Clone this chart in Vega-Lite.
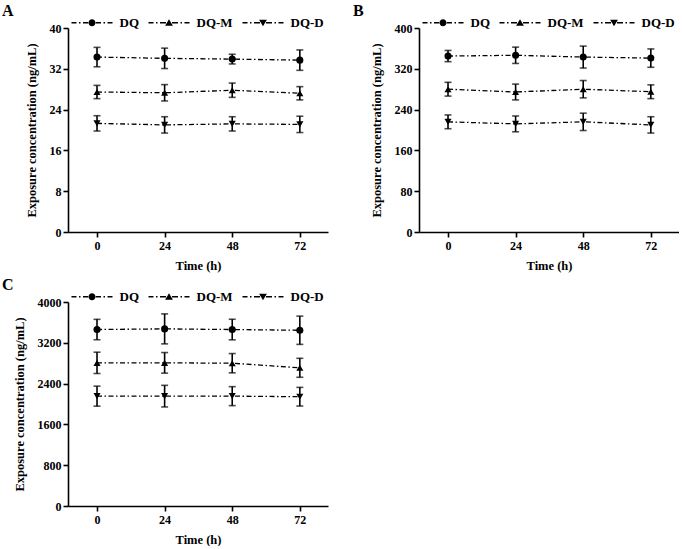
{
  "$schema": "https://vega.github.io/schema/vega-lite/v6.json",
  "padding": {"left": 2, "top": 3, "right": 0, "bottom": 0},
  "background": "white",
  "datasets": {
    "A": [
      {"series": "DQ", "time": 0, "mean": 34.3, "err": 1.9},
      {"series": "DQ", "time": 24, "mean": 34.05, "err": 2.0},
      {"series": "DQ", "time": 48, "mean": 33.9, "err": 0.95},
      {"series": "DQ", "time": 72, "mean": 33.7, "err": 2.0},
      {"series": "DQ-M", "time": 0, "mean": 27.45, "err": 1.3},
      {"series": "DQ-M", "time": 24, "mean": 27.3, "err": 1.6},
      {"series": "DQ-M", "time": 48, "mean": 27.8, "err": 1.4},
      {"series": "DQ-M", "time": 72, "mean": 27.2, "err": 1.3},
      {"series": "DQ-D", "time": 0, "mean": 21.3, "err": 1.5},
      {"series": "DQ-D", "time": 24, "mean": 21.0, "err": 1.6},
      {"series": "DQ-D", "time": 48, "mean": 21.2, "err": 1.4},
      {"series": "DQ-D", "time": 72, "mean": 21.1, "err": 1.6}
    ],
    "B": [
      {"series": "DQ", "time": 0, "mean": 345, "err": 11},
      {"series": "DQ", "time": 24, "mean": 346.5, "err": 16},
      {"series": "DQ", "time": 48, "mean": 343, "err": 21.5},
      {"series": "DQ", "time": 72, "mean": 341, "err": 18},
      {"series": "DQ-M", "time": 0, "mean": 280, "err": 13.5},
      {"series": "DQ-M", "time": 24, "mean": 274.5, "err": 15.5},
      {"series": "DQ-M", "time": 48, "mean": 280, "err": 17},
      {"series": "DQ-M", "time": 72, "mean": 275, "err": 13.5},
      {"series": "DQ-D", "time": 0, "mean": 216, "err": 13.5},
      {"series": "DQ-D", "time": 24, "mean": 212, "err": 15.5},
      {"series": "DQ-D", "time": 48, "mean": 216, "err": 17},
      {"series": "DQ-D", "time": 72, "mean": 210, "err": 16}
    ],
    "C": [
      {"series": "DQ", "time": 0, "mean": 3460, "err": 200},
      {"series": "DQ", "time": 24, "mean": 3473, "err": 294},
      {"series": "DQ", "time": 48, "mean": 3460, "err": 202},
      {"series": "DQ", "time": 72, "mean": 3446, "err": 277},
      {"series": "DQ-M", "time": 0, "mean": 2807, "err": 209},
      {"series": "DQ-M", "time": 24, "mean": 2807, "err": 202},
      {"series": "DQ-M", "time": 48, "mean": 2800, "err": 189},
      {"series": "DQ-M", "time": 72, "mean": 2710, "err": 186},
      {"series": "DQ-D", "time": 0, "mean": 2154, "err": 196},
      {"series": "DQ-D", "time": 24, "mean": 2154, "err": 212},
      {"series": "DQ-D", "time": 48, "mean": 2154, "err": 186},
      {"series": "DQ-D", "time": 72, "mean": 2143, "err": 183}
    ]
  },
  "columns": 2,
  "spacing": {"column": 25, "row": 5},
  "concat": [
    {
      "title": {"text": "A"},
      "width": 260, "height": 204,
      "data": {"name": "A"},
      "resolve": {"scale": {"shape": "independent"}, "legend": {"shape": "independent"}},
      "layer": [
        {"mark": {"type": "line", "color": "black", "strokeWidth": 1.3, "strokeDash": [5, 2.5, 1.5, 2.5]},
         "encoding": {
           "x": {"field": "time", "type": "quantitative", "title": "Time (h)", "scale": {"domain": [-10.3, 82], "nice": false, "zero": false}, "axis": {"values": [0, 24, 48, 72]}},
           "y": {"field": "mean", "type": "quantitative", "title": "Exposure concentration (ng/mL)", "scale": {"domain": [0, 40], "nice": false}, "axis": {"values": [0, 8, 16, 24, 32, 40], "format": "d"}},
           "detail": {"field": "series"}}},
        {"mark": {"type": "errorbar", "color": "black", "thickness": 1.6, "ticks": {"size": 7, "thickness": 1.6, "color": "black"}},
         "encoding": {
           "x": {"field": "time", "type": "quantitative", "title": "Time (h)"},
           "y": {"field": "mean", "type": "quantitative", "title": "Exposure concentration (ng/mL)"},
           "yError": {"field": "err"}}},
        {"mark": {"type": "point", "filled": true, "color": "black", "opacity": 1, "size": 50},
         "encoding": {
           "x": {"field": "time", "type": "quantitative", "title": "Time (h)"},
           "y": {"field": "mean", "type": "quantitative", "title": "Exposure concentration (ng/mL)"},
           "shape": {"field": "series", "type": "nominal", "legend": null,
             "scale": {"domain": ["DQ", "DQ-M", "DQ-D"], "range": ["circle", "triangle-up", "triangle-down"]}}}},
        {"mark": {"type": "point", "filled": true, "color": "black", "size": 0},
         "encoding": {
           "x": {"field": "time", "type": "quantitative", "title": "Time (h)"},
           "y": {"field": "mean", "type": "quantitative", "title": "Exposure concentration (ng/mL)"},
           "shape": {"field": "series", "type": "nominal",
             "scale": {"domain": ["DQ", "DQ-M", "DQ-D"], "range": [
               "M-20.5,-0.7H-15.5V0.7H-20.5Z M-13,-0.7H-11.5V0.7H-13Z M-9,-0.7H-3V0.7H-9Z M3,-0.7H9V0.7H3Z M11.5,-0.7H13V0.7H11.5Z M15.5,-0.7H20.5V0.7H15.5Z M-3.5,0A3.5,3.5 0 1,0 3.5,0A3.5,3.5 0 1,0 -3.5,0Z",
               "M-20.5,-0.7H-15.5V0.7H-20.5Z M-13,-0.7H-11.5V0.7H-13Z M-9,-0.7H-3V0.7H-9Z M3,-0.7H9V0.7H3Z M11.5,-0.7H13V0.7H11.5Z M15.5,-0.7H20.5V0.7H15.5Z M0,-3.6L3.9,3L-3.9,3Z",
               "M-20.5,-0.7H-15.5V0.7H-20.5Z M-13,-0.7H-11.5V0.7H-13Z M-9,-0.7H-3V0.7H-9Z M3,-0.7H9V0.7H3Z M11.5,-0.7H13V0.7H11.5Z M15.5,-0.7H20.5V0.7H15.5Z M0,3.6L3.9,-3L-3.9,-3Z"]},
             "legend": {"title": null, "orient": "none", "legendX": 3, "legendY": -12, "direction": "horizontal", "columns": 3, "padding": 0,
               "symbolSize": 4, "symbolStrokeWidth": 0, "symbolOpacity": 1, "symbolFillColor": "black", "symbolOffset": 14.5, "labelOffset": 21, "columnPadding": 9,
               "labelFont": "Liberation Serif", "labelFontWeight": "bold", "labelFontSize": 13, "labelColor": "black"}}}}
      ]
    },
    {
      "title": {"text": "B"},
      "width": 260, "height": 204,
      "data": {"name": "B"},
      "resolve": {"scale": {"shape": "independent"}, "legend": {"shape": "independent"}},
      "layer": [
        {"mark": {"type": "line", "color": "black", "strokeWidth": 1.3, "strokeDash": [5, 2.5, 1.5, 2.5]},
         "encoding": {
           "x": {"field": "time", "type": "quantitative", "title": "Time (h)", "scale": {"domain": [-10.3, 82], "nice": false, "zero": false}, "axis": {"values": [0, 24, 48, 72]}},
           "y": {"field": "mean", "type": "quantitative", "title": "Exposure concentration (ng/mL)", "scale": {"domain": [0, 400], "nice": false}, "axis": {"values": [0, 80, 160, 240, 320, 400], "format": "d"}},
           "detail": {"field": "series"}}},
        {"mark": {"type": "errorbar", "color": "black", "thickness": 1.6, "ticks": {"size": 7, "thickness": 1.6, "color": "black"}},
         "encoding": {
           "x": {"field": "time", "type": "quantitative", "title": "Time (h)"},
           "y": {"field": "mean", "type": "quantitative", "title": "Exposure concentration (ng/mL)"},
           "yError": {"field": "err"}}},
        {"mark": {"type": "point", "filled": true, "color": "black", "opacity": 1, "size": 50},
         "encoding": {
           "x": {"field": "time", "type": "quantitative", "title": "Time (h)"},
           "y": {"field": "mean", "type": "quantitative", "title": "Exposure concentration (ng/mL)"},
           "shape": {"field": "series", "type": "nominal", "legend": null,
             "scale": {"domain": ["DQ", "DQ-M", "DQ-D"], "range": ["circle", "triangle-up", "triangle-down"]}}}},
        {"mark": {"type": "point", "filled": true, "color": "black", "size": 0},
         "encoding": {
           "x": {"field": "time", "type": "quantitative", "title": "Time (h)"},
           "y": {"field": "mean", "type": "quantitative", "title": "Exposure concentration (ng/mL)"},
           "shape": {"field": "series", "type": "nominal",
             "scale": {"domain": ["DQ", "DQ-M", "DQ-D"], "range": [
               "M-20.5,-0.7H-15.5V0.7H-20.5Z M-13,-0.7H-11.5V0.7H-13Z M-9,-0.7H-3V0.7H-9Z M3,-0.7H9V0.7H3Z M11.5,-0.7H13V0.7H11.5Z M15.5,-0.7H20.5V0.7H15.5Z M-3.5,0A3.5,3.5 0 1,0 3.5,0A3.5,3.5 0 1,0 -3.5,0Z",
               "M-20.5,-0.7H-15.5V0.7H-20.5Z M-13,-0.7H-11.5V0.7H-13Z M-9,-0.7H-3V0.7H-9Z M3,-0.7H9V0.7H3Z M11.5,-0.7H13V0.7H11.5Z M15.5,-0.7H20.5V0.7H15.5Z M0,-3.6L3.9,3L-3.9,3Z",
               "M-20.5,-0.7H-15.5V0.7H-20.5Z M-13,-0.7H-11.5V0.7H-13Z M-9,-0.7H-3V0.7H-9Z M3,-0.7H9V0.7H3Z M11.5,-0.7H13V0.7H11.5Z M15.5,-0.7H20.5V0.7H15.5Z M0,3.6L3.9,-3L-3.9,-3Z"]},
             "legend": {"title": null, "orient": "none", "legendX": 3, "legendY": -12, "direction": "horizontal", "columns": 3, "padding": 0,
               "symbolSize": 4, "symbolStrokeWidth": 0, "symbolOpacity": 1, "symbolFillColor": "black", "symbolOffset": 14.5, "labelOffset": 21, "columnPadding": 9,
               "labelFont": "Liberation Serif", "labelFontWeight": "bold", "labelFontSize": 13, "labelColor": "black"}}}}
      ]
    },
    {
      "title": {"text": "C"},
      "width": 260, "height": 204,
      "data": {"name": "C"},
      "resolve": {"scale": {"shape": "independent"}, "legend": {"shape": "independent"}},
      "layer": [
        {"mark": {"type": "line", "color": "black", "strokeWidth": 1.3, "strokeDash": [5, 2.5, 1.5, 2.5]},
         "encoding": {
           "x": {"field": "time", "type": "quantitative", "title": "Time (h)", "scale": {"domain": [-10.3, 82], "nice": false, "zero": false}, "axis": {"values": [0, 24, 48, 72]}},
           "y": {"field": "mean", "type": "quantitative", "title": "Exposure concentration (ng/mL)", "scale": {"domain": [0, 4000], "nice": false}, "axis": {"values": [0, 800, 1600, 2400, 3200, 4000], "format": "d"}},
           "detail": {"field": "series"}}},
        {"mark": {"type": "errorbar", "color": "black", "thickness": 1.6, "ticks": {"size": 7, "thickness": 1.6, "color": "black"}},
         "encoding": {
           "x": {"field": "time", "type": "quantitative", "title": "Time (h)"},
           "y": {"field": "mean", "type": "quantitative", "title": "Exposure concentration (ng/mL)"},
           "yError": {"field": "err"}}},
        {"mark": {"type": "point", "filled": true, "color": "black", "opacity": 1, "size": 50},
         "encoding": {
           "x": {"field": "time", "type": "quantitative", "title": "Time (h)"},
           "y": {"field": "mean", "type": "quantitative", "title": "Exposure concentration (ng/mL)"},
           "shape": {"field": "series", "type": "nominal", "legend": null,
             "scale": {"domain": ["DQ", "DQ-M", "DQ-D"], "range": ["circle", "triangle-up", "triangle-down"]}}}},
        {"mark": {"type": "point", "filled": true, "color": "black", "size": 0},
         "encoding": {
           "x": {"field": "time", "type": "quantitative", "title": "Time (h)"},
           "y": {"field": "mean", "type": "quantitative", "title": "Exposure concentration (ng/mL)"},
           "shape": {"field": "series", "type": "nominal",
             "scale": {"domain": ["DQ", "DQ-M", "DQ-D"], "range": [
               "M-20.5,-0.7H-15.5V0.7H-20.5Z M-13,-0.7H-11.5V0.7H-13Z M-9,-0.7H-3V0.7H-9Z M3,-0.7H9V0.7H3Z M11.5,-0.7H13V0.7H11.5Z M15.5,-0.7H20.5V0.7H15.5Z M-3.5,0A3.5,3.5 0 1,0 3.5,0A3.5,3.5 0 1,0 -3.5,0Z",
               "M-20.5,-0.7H-15.5V0.7H-20.5Z M-13,-0.7H-11.5V0.7H-13Z M-9,-0.7H-3V0.7H-9Z M3,-0.7H9V0.7H3Z M11.5,-0.7H13V0.7H11.5Z M15.5,-0.7H20.5V0.7H15.5Z M0,-3.6L3.9,3L-3.9,3Z",
               "M-20.5,-0.7H-15.5V0.7H-20.5Z M-13,-0.7H-11.5V0.7H-13Z M-9,-0.7H-3V0.7H-9Z M3,-0.7H9V0.7H3Z M11.5,-0.7H13V0.7H11.5Z M15.5,-0.7H20.5V0.7H15.5Z M0,3.6L3.9,-3L-3.9,-3Z"]},
             "legend": {"title": null, "orient": "none", "legendX": 3, "legendY": -12, "direction": "horizontal", "columns": 3, "padding": 0,
               "symbolSize": 4, "symbolStrokeWidth": 0, "symbolOpacity": 1, "symbolFillColor": "black", "symbolOffset": 14.5, "labelOffset": 21, "columnPadding": 9,
               "labelFont": "Liberation Serif", "labelFontWeight": "bold", "labelFontSize": 13, "labelColor": "black"}}}}
      ]
    }
  ],
  "config": {
    "font": "Liberation Serif",
    "view": {"stroke": null},
    "axis": {"grid": false, "domainColor": "black", "domainWidth": 1.6, "tickColor": "black", "tickWidth": 1.6, "tickSize": 5,
      "labelFont": "Liberation Serif", "labelFontWeight": "bold", "labelFontSize": 12, "labelColor": "black", "labelPadding": 2,
      "titleFont": "Liberation Serif", "titleFontWeight": "bold", "titleFontSize": 12.5, "titleColor": "black"},
    "axisY": {"titlePadding": 11},
    "axisX": {"titlePadding": 8, "labelPadding": 3},
    "title": {"font": "Liberation Serif", "fontSize": 16, "fontWeight": "bold", "color": "black", "anchor": "start", "frame": "group", "dx": -66, "offset": -3}
  }
}
